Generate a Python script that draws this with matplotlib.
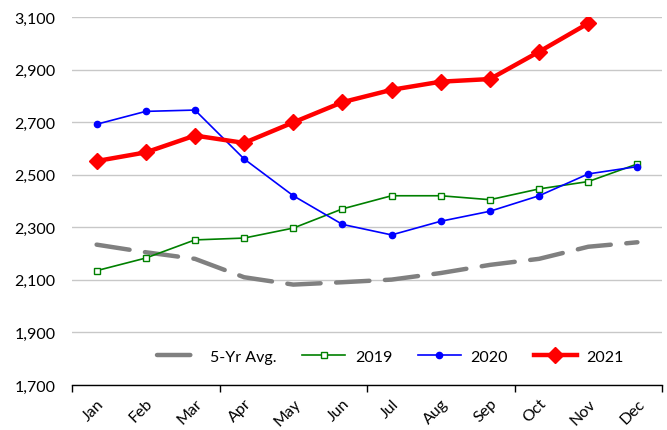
import numpy as np
import matplotlib
matplotlib.use("Agg")
import matplotlib.pyplot as plt
from matplotlib.ticker import FixedLocator, FuncFormatter

plt.rcParams["font.family"] = ["Lato", "DejaVu Sans"]

months = ["Jan", "Feb", "Mar", "Apr", "May", "Jun",
          "Jul", "Aug", "Sep", "Oct", "Nov", "Dec"]
avg5 = [2234, 2205, 2180, 2110, 2082, 2091, 2101, 2126, 2157, 2180, 2226, 2243]
y2019 = [2135, 2183, 2252, 2259, 2297, 2370, 2420, 2420, 2405, 2446, 2474, 2541]
y2020 = [2692, 2741, 2746, 2560, 2420, 2311, 2271, 2323, 2361, 2420, 2503, 2531]
y2021 = [2552, 2585, 2649, 2621, 2699, 2776, 2823, 2854, 2864, 2968, 3076]

fig = plt.figure(figsize=(6.67, 4.31), dpi=100)
ax = fig.add_axes([0.108, 0.1044, 0.8845, 0.8538])

x = np.arange(len(months))
ax.plot(x, avg5, color="#808080", lw=3.2, linestyle=(0, (7.5, 3.5)),
        dash_capstyle="round", label="5-Yr Avg.", zorder=2)
ax.plot(x, y2019, color="#008000", lw=1.2, marker="s", ms=4.5,
        mfc="white", mec="#008000", mew=1.0, label="2019", zorder=3)
ax.plot(x, y2020, color="#0000FF", lw=1.2, marker="o", ms=4.5,
        label="2020", zorder=4)
ax.plot(x[:len(y2021)], y2021, color="#FF0000", lw=3.2, marker="D", ms=8,
        label="2021", zorder=5)

ax.set_ylim(1700, 3100)
ax.set_yticks(np.arange(1700, 3101, 200))
ax.yaxis.set_major_formatter(FuncFormatter(lambda v, p: f"{int(v):,}"))
ax.set_xlim(-0.5, 11.5)
ax.xaxis.set_major_locator(FixedLocator([-0.5, 2.5, 5.5, 8.5, 11.5]))
ax.xaxis.set_major_formatter(FuncFormatter(lambda v, p: ""))
ax.xaxis.set_minor_locator(FixedLocator(x))
ax.set_xticklabels(months, minor=True, rotation=45, ha="right",
                   rotation_mode="anchor")
ax.tick_params(axis="x", which="major", length=5, width=1, color="black")
ax.tick_params(axis="x", which="minor", length=0, labelsize=11.5, pad=8)
ax.tick_params(axis="y", length=0, labelsize=11.5, pad=12)

ax.grid(axis="y", color="#C8C8C8", lw=1)
ax.set_axisbelow(True)
for s in ["top", "right", "left"]:
    ax.spines[s].set_visible(False)
ax.spines["bottom"].set_color("black")
ax.spines["bottom"].set_linewidth(1)

ax.legend(loc="center", bbox_to_anchor=(0.54, 0.077), ncol=4,
          frameon=False, fontsize=11.5, handlelength=2.7, handletextpad=0.6,
          columnspacing=1.6)

fig.savefig("out.png", dpi=100)
